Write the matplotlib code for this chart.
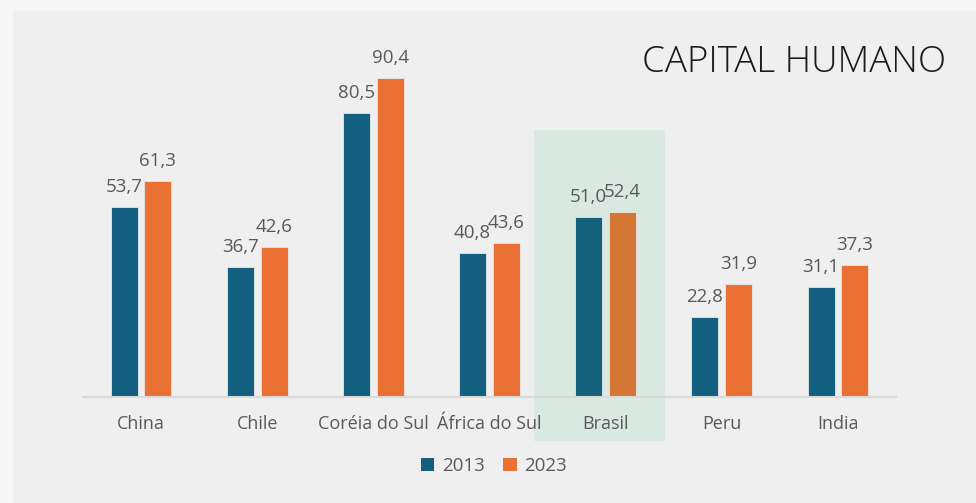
import matplotlib
matplotlib.use("Agg")
import matplotlib.pyplot as plt
from matplotlib.patches import Rectangle, Patch

categories = ["China", "Chile", "Coréia do Sul", "África do Sul", "Brasil", "Peru", "India"]
values_2013 = [53.7, 36.7, 80.5, 40.8, 51.0, 22.8, 31.1]
values_2023 = [61.3, 42.6, 90.4, 43.6, 52.4, 31.9, 37.3]
series_labels = ["2013", "2023"]
title_text = "CAPITAL HUMANO"
highlight = "Brasil"

W, H = 976, 503
fig = plt.figure(figsize=(W / 100, H / 100), dpi=100)
fig.patch.set_facecolor("#f6f6f7")
fig.patches.append(Rectangle((13 / W, 0), 1 - 13 / W, 1 - 11 / H, transform=fig.transFigure,
                             facecolor="#efefef", edgecolor="none", zorder=-2))

FONT = ["Open Sans", "DejaVu Sans"]
TXT = "#595959"

ax = fig.add_axes([83 / W, 1 - 397 / H, (896 - 83) / W, (397 - 30) / H])
ax.patch.set_visible(False)
ymax = (397 - 30) / 3.53
ax.set_ylim(0, ymax)
ax.set_xlim(-0.5, len(categories) - 0.5)

c13 = ["#135f7f"] * len(categories)
c23 = ["#ea7033"] * len(categories)
hi = categories.index(highlight)
c13[hi] = "#13617a"
c23[hi] = "#d47634"

bw = 0.232
off = 0.145
x = list(range(len(categories)))
b1 = ax.bar([i - off for i in x], values_2013, bw, color=c13, edgecolor="#e8e8e8", linewidth=0.6, zorder=2)
b2 = ax.bar([i + off for i in x], values_2023, bw, color=c23, edgecolor="#e8e8e8", linewidth=0.6, zorder=2)

for bars, vals in ((b1, values_2013), (b2, values_2023)):
    for r, v in zip(bars, vals):
        ax.annotate(f"{v:.1f}".replace(".", ","), (r.get_x() + r.get_width() / 2, v),
                    xytext=(0, 14.4), textcoords="offset points", ha="center", va="center",
                    fontsize=13.5, color=TXT, family=FONT)

# highlight box
ax.add_patch(Rectangle((hi - 0.615, -(441 - 397) / 3.53), 1.13, (441 - 130) / 3.53,
                       facecolor="#d9e9e1", edgecolor="none", zorder=0.5, clip_on=False))

for s in ("top", "right", "left"):
    ax.spines[s].set_visible(False)
ax.spines["bottom"].set_color("#d9d9d9")
ax.spines["bottom"].set_linewidth(1.5)
ax.spines["bottom"].set_zorder(3)
ax.set_yticks([])
ax.set_xticks(x)
ax.set_xticklabels(categories, fontsize=13, color=TXT, family=FONT)
ax.tick_params(axis="x", length=0, pad=13)

fig.text(946 / W, 1 - 72 / H, title_text, ha="right", va="baseline", fontsize=26.5,
         color="#1a1a1a", family=FONT, fontweight="light")

handles = [Patch(facecolor="#135f7f"), Patch(facecolor="#ea7033")]
fig.legend(handles, series_labels, loc="center", bbox_to_anchor=(494 / W, 1 - 466 / H), ncol=2,
           frameon=False, handlelength=0.7, handleheight=0.7, handletextpad=0.4,
           columnspacing=1.0, prop={"family": FONT, "size": 13.5}, labelcolor=TXT)

fig.savefig("out.png", dpi=100, facecolor=fig.get_facecolor())
